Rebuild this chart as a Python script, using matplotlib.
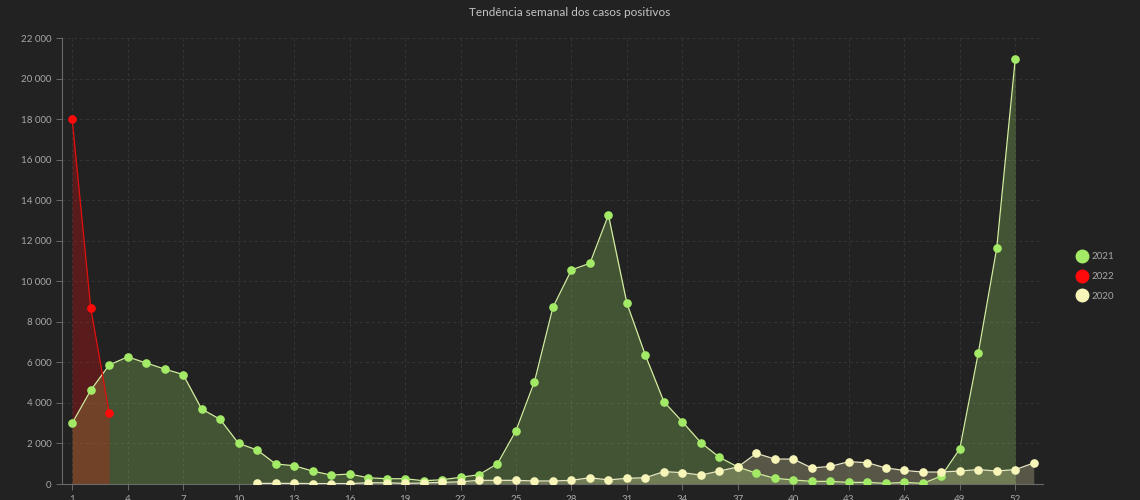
import matplotlib
matplotlib.use('Agg')

import matplotlib.pyplot as plt
from matplotlib.lines import Line2D
from matplotlib.ticker import FuncFormatter

# Casos positivos por semana epidemiológica
semanas_2021 = list(range(1, 53))
casos_2021 = [3000, 4620, 5870, 6270, 5970, 5670, 5400, 3700, 3190, 2000,
              1680, 990, 900, 640, 440, 490, 310, 260, 260, 160,
              210, 330, 460, 1000, 2630, 5050, 8720, 10560, 10890, 13270,
              8910, 6350, 4060, 3070, 2040, 1320, 840, 530, 280, 200,
              130, 130, 80, 80, 30, 80, 30, 390, 1730, 6450,
              11640, 20970]

semanas_2022 = [1, 2, 3]
casos_2022 = [18000, 8700, 3520]

semanas_2020 = list(range(11, 54))
casos_2020 = [30, 30, 30, 20, 20, 20, 60, 60, 30, 50,
              80, 110, 180, 180, 180, 150, 150, 180, 310, 200,
              280, 310, 610, 560, 440, 640, 840, 1510, 1230, 1230,
              790, 870, 1100, 1050, 790, 670, 590, 590, 640, 710,
              640, 710, 1035]

series = [
    ('2021', semanas_2021, casos_2021, '#a3ea66', '#d2eca0'),
    ('2022', semanas_2022, casos_2022, '#ff0a0a', '#e01010'),
    ('2020', semanas_2020, casos_2020, '#f7f5b8', '#e8e6c4'),
]

bg = '#222222'
txt = '#a8a8a8'
plt.rcParams['font.family'] = ['Lato', 'DejaVu Sans']

fig = plt.figure(figsize=(11.4, 5), dpi=100, facecolor=bg)
ax = fig.add_axes([0.0544, 0.032, 0.8605, 0.892], facecolor=bg)

for nome, x, y, cor, cor_linha in series:
    ax.fill_between(x, y, 0, color=cor, alpha=0.25, linewidth=0, zorder=2)
    ax.plot(x, y, color=cor_linha, linewidth=0.9, zorder=3)
    ax.plot(x, y, linestyle='none', marker='o', markersize=5.2,
            markerfacecolor=cor, markeredgecolor=cor, zorder=4)

ax.set_xlim(0.45, 53.5)
ax.set_ylim(0, 22000)
ax.set_xticks(list(range(1, 53, 3)))
ax.set_yticks(list(range(0, 22001, 2000)))
ax.yaxis.set_major_formatter(FuncFormatter(lambda v, p: f"{int(v):,}".replace(",", " ")))

ax.grid(True, color='#363636', linestyle=(0, (3, 3)), linewidth=0.7, zorder=0)
ax.set_axisbelow(True)
for lado in ['top', 'right']:
    ax.spines[lado].set_visible(False)
for lado in ['left', 'bottom']:
    ax.spines[lado].set_color('#6a6a6a')
    ax.spines[lado].set_linewidth(0.8)
ax.tick_params(colors='#6a6a6a', labelcolor=txt, labelsize=7, length=4, width=0.7)
ax.tick_params(axis='x', pad=4)

fig.suptitle("Tendência semanal dos casos positivos", color='#c4c4c4',
             fontsize=8.5, y=0.985)

handles = [Line2D([0], [0], linestyle='none', marker='o', markersize=9,
                  markerfacecolor=s[3], markeredgecolor=s[3]) for s in series]
leg = fig.legend(handles, [s[0] for s in series], loc='center left',
                 bbox_to_anchor=(0.937, 0.447), frameon=False, fontsize=7,
                 labelcolor=txt, handletextpad=0.5, labelspacing=1.1,
                 handlelength=1.0)

plt.savefig('out.png', dpi=100, facecolor=bg)
